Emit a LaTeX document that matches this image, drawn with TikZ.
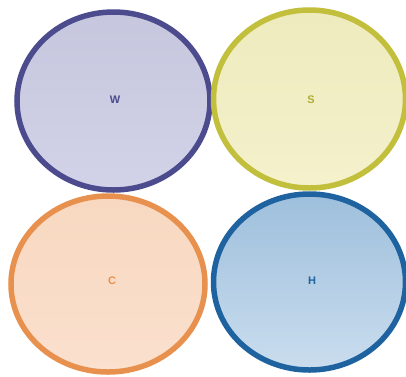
\documentclass[tikz,border=0pt]{standalone}
\usepackage{fontspec}
\setmainfont{Liberation Sans}
\begin{document}
\begin{tikzpicture}[x=1pt,y=-1pt,
  lbl/.style={font=\bfseries\fontsize{11}{12}\selectfont}]
\useasboundingbox[fill=white] (0,0) rectangle (406,376);
\definecolor{wB}{HTML}{4B4B8E}\definecolor{wT}{HTML}{C6C6DE}\definecolor{wBt}{HTML}{D2D2E8}
\definecolor{sB}{HTML}{C2BF3C}\definecolor{sT}{HTML}{EEEBBE}\definecolor{sBt}{HTML}{F4F1CC}
\definecolor{cB}{HTML}{E8914E}\definecolor{cT}{HTML}{F8D8C0}\definecolor{cBt}{HTML}{FAE0CE}
\definecolor{hB}{HTML}{1E63A0}\definecolor{hT}{HTML}{9EBFDC}\definecolor{hBt}{HTML}{CADDEE}
\path[draw=wB, top color=wT, bottom color=wBt, line width=5.5pt] (113.5,101) ellipse [x radius=96.5, y radius=89] coordinate (w);
\path[draw=sB, top color=sT, bottom color=sBt, line width=5.5pt] (309.5,99) ellipse [x radius=96, y radius=89] coordinate (s);
\path[draw=cB, top color=cT, bottom color=cBt, line width=5.5pt] (108,284) ellipse [x radius=97, y radius=88] coordinate (c);
\path[draw=hB, top color=hT, bottom color=hBt, line width=5.5pt] (309.5,282) ellipse [x radius=96, y radius=88] coordinate (h);
\node[lbl, text=wB] (wl) at (115,100) {W};
\node[lbl, text=sB!90!black] (sl) at (311,100) {S};
\node[lbl, text=cB] (cl) at (112,281) {C};
\node[lbl, text=hB] (hl) at (312,281) {H};
\end{tikzpicture}
\end{document}
